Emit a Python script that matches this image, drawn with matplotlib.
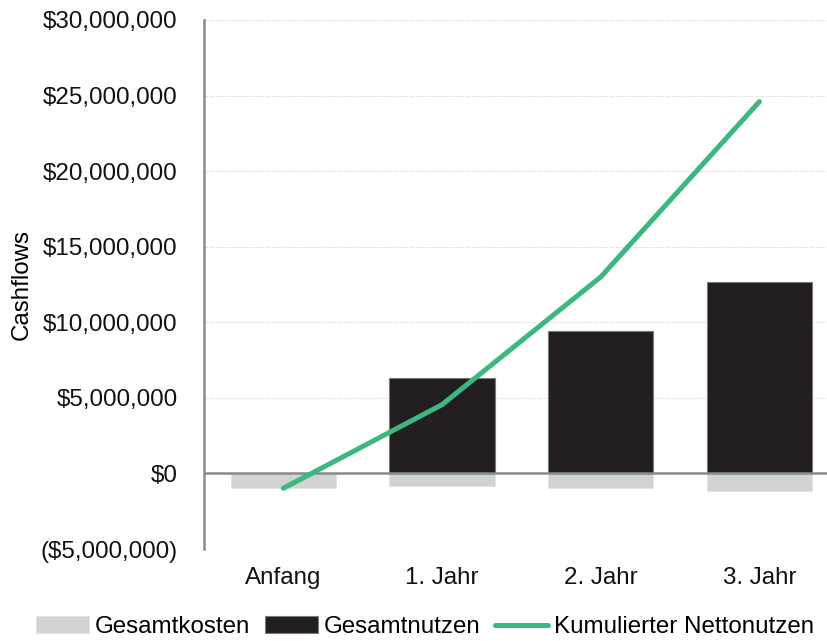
import numpy as np
import matplotlib
matplotlib.use("Agg")
import matplotlib.pyplot as plt
from matplotlib.ticker import FuncFormatter

plt.rcParams['font.family'] = ['Liberation Sans', 'DejaVu Sans']

categories = ['Anfang', '1. Jahr', '2. Jahr', '3. Jahr']
kosten = [-0.98e6, -0.85e6, -0.98e6, -1.16e6]
nutzen = [0, 6.3e6, 9.44e6, 12.65e6]
kumuliert = [-0.98e6, 4.55e6, 13.0e6, 24.6e6]

grau = '#d1d2d4'
schwarz = '#231f20'
gruen = '#3cb77f'


def money(v, pos):
    if v < 0:
        return '(${:,.0f})'.format(-v)
    return '${:,.0f}'.format(v)


fig = plt.figure(figsize=(8.27, 6.41), dpi=100)
ax = fig.add_axes([0.2467, 0.1435, 0.7533, 0.8253])

x = np.arange(len(categories))
w = 0.665
b1 = ax.bar(x, kosten, width=w, color=grau, edgecolor='#e2e3e4', linewidth=0.6,
            label='Gesamtkosten', zorder=2)
nz = [n if n > 0 else np.nan for n in nutzen]
b2 = ax.bar(x, nz, width=w, color=schwarz, edgecolor='#7a7a7c', linewidth=0.8,
            label='Gesamtnutzen', zorder=2)
ax.axhline(0, color='#8a8a8a', linewidth=1.8, zorder=3)
l1, = ax.plot(x, kumuliert, color=gruen, linewidth=3.6, solid_capstyle='round',
              label='Kumulierter Nettonutzen', zorder=4)

ax.set_ylim(-5e6, 30e6)
ax.set_xlim(-0.5, 3.426)
ax.set_yticks(np.arange(-5e6, 30e6 + 1, 5e6))
ax.yaxis.set_major_formatter(FuncFormatter(money))
ax.set_xticks(x)
ax.set_xticklabels(categories)
ax.tick_params(axis='both', length=0, labelsize=17.4, colors='#111111')
ax.tick_params(axis='y', pad=19)
ax.tick_params(axis='x', pad=13)
ax.grid(axis='y', color='#e6e6e6', linewidth=0.8, linestyle=(0, (4, 1)), zorder=0)
for s in ['top', 'right', 'bottom']:
    ax.spines[s].set_visible(False)
ax.spines['left'].set_color('#8a8a8a')
ax.spines['left'].set_linewidth(1.8)
ax.set_ylabel('Cashflows', fontsize=17.4)
ax.yaxis.set_label_coords(-0.275, 0.5)

fig.legend(handles=[b1, b2, l1], loc='center', bbox_to_anchor=(0.514, 1 - 627 / 641), ncol=3,
           frameon=False, fontsize=17.4, handlelength=2.2, handleheight=0.7,
           handletextpad=0.25, columnspacing=0.6, borderaxespad=0)

fig.savefig('out.png', dpi=100)
